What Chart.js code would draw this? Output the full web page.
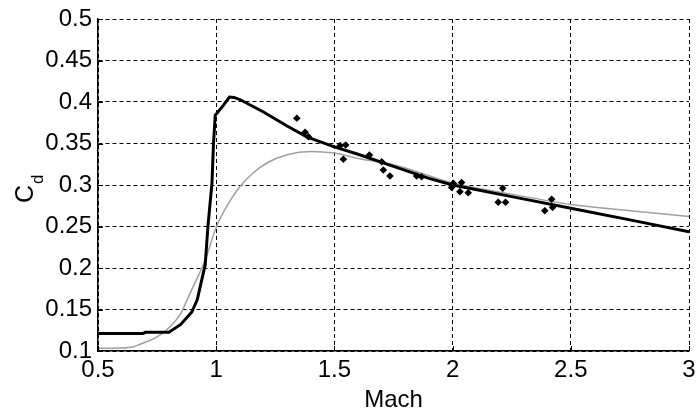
<!DOCTYPE html>
<html>
<head>
<meta charset="utf-8">
<script src="https://cdn.jsdelivr.net/npm/chart.js@4/dist/chart.umd.min.js"></script>
<style>
html,body{margin:0;padding:0;background:#fff;}
canvas{display:block;}
</style>
</head>
<body>
<canvas id="c" width="698" height="412"></canvas>
<script>
// ---- data ----
const xTicks = [0.5, 1, 1.5, 2, 2.5, 3];
const xTickLabels = ['0.5', '1', '1.5', '2', '2.5', '3'];
const yTicks = [0.1, 0.15, 0.2, 0.25, 0.3, 0.35, 0.4, 0.45, 0.5];
const yTickLabels = ['0.1', '0.15', '0.2', '0.25', '0.3', '0.35', '0.4', '0.45', '0.5'];

// thick black curve
const machBlack = [0.5, 0.69, 0.70, 0.80, 0.85, 0.897, 0.92, 0.9535, 0.965, 0.982, 0.9886, 0.996, 1.03, 1.056, 1.075, 1.1, 1.2, 1.3, 1.383, 1.5, 1.6, 1.75, 1.9, 2.0, 2.25, 2.5, 2.75, 3.0];
const cdBlack   = [0.121, 0.121, 0.1225, 0.1225, 0.132, 0.147, 0.162, 0.204, 0.25, 0.302, 0.35, 0.384, 0.396, 0.406, 0.4055, 0.403, 0.388, 0.371, 0.358, 0.346, 0.337, 0.3225, 0.308, 0.300, 0.286, 0.272, 0.258, 0.2437];

// thin grey curve
const machGrey = [0.5, 0.6, 0.65, 0.68, 0.75, 0.8, 0.85, 0.876, 0.9, 0.9535, 1.0, 1.05, 1.1, 1.15, 1.214, 1.3, 1.4, 1.5, 1.6, 1.75, 2.0, 2.25, 2.5, 2.75, 3.0];
const cdGrey   = [0.1033, 0.1035, 0.105, 0.1085, 0.117, 0.128, 0.145, 0.161, 0.176, 0.2096, 0.249, 0.277, 0.298, 0.313, 0.3265, 0.3365, 0.3405, 0.3385, 0.332, 0.3245, 0.3025, 0.289, 0.2765, 0.269, 0.262];

// measured points (diamonds)
const machPts = [1.341, 1.376, 1.390, 1.524, 1.548, 1.538, 1.648, 1.700, 1.707, 1.735, 1.848, 1.869, 2.003, 1.996, 2.038, 2.031, 2.066, 2.212, 2.193, 2.224, 2.390, 2.419, 2.423];
const cdPts   = [0.3804, 0.3635, 0.3582, 0.3474, 0.3482, 0.331, 0.3361, 0.328, 0.318, 0.3108, 0.3108, 0.310, 0.302, 0.297, 0.303, 0.292, 0.2907, 0.296, 0.2792, 0.2792, 0.269, 0.2828, 0.2731];

const xTitle = 'Mach';
const yTitleMain = 'C';
const yTitleSub = 'd';

const FONT = '"Liberation Sans", Arial, sans-serif';
const pairs = (xs, ys) => xs.map((x, i) => ({x: x, y: ys[i]}));

const yTitlePlugin = {
  id: 'yTitle',
  afterDraw(chart) {
    const ctx = chart.ctx;
    ctx.save();
    ctx.translate(33, 203);
    ctx.rotate(-Math.PI / 2);
    ctx.fillStyle = '#000';
    ctx.textBaseline = 'alphabetic';
    ctx.textAlign = 'left';
    ctx.font = '25px ' + FONT;
    ctx.fillText(yTitleMain, 0, 0);
    const w = ctx.measureText(yTitleMain).width;
    ctx.font = '17px ' + FONT;
    ctx.fillText(yTitleSub, w + 1, 10);
    ctx.restore();
  }
};

const innerTicks = {
  id: 'innerTicks',
  afterDatasetsDraw(chart) {
    const ctx = chart.ctx;
    const xs = chart.scales.x, ys = chart.scales.y;
    const a = chart.chartArea;
    ctx.save();
    ctx.strokeStyle = '#000';
    ctx.lineWidth = 1;
    ctx.beginPath();
    xTicks.forEach(v => {
      const px = Math.round(xs.getPixelForValue(v)) + 0.5;
      ctx.moveTo(px, a.bottom);
      ctx.lineTo(px, a.bottom - 5);
    });
    yTicks.forEach(v => {
      const py = Math.round(ys.getPixelForValue(v)) + 0.5;
      ctx.moveTo(a.left, py);
      ctx.lineTo(a.left + 5, py);
    });
    ctx.stroke();
    ctx.restore();
  }
};

new Chart(document.getElementById('c'), {
  type: 'scatter',
  data: {
    datasets: [
      {
        label: 'data',
        data: pairs(machPts, cdPts),
        pointStyle: 'rectRot',
        pointRadius: 3.8,
        backgroundColor: '#000',
        borderColor: '#000',
        borderWidth: 0,
        showLine: false
      },
      {
        label: 'black',
        data: pairs(machBlack, cdBlack),
        showLine: true,
        borderColor: '#000',
        borderWidth: 3,
        pointRadius: 0,
        tension: 0,
        fill: false
      },
      {
        label: 'grey',
        data: pairs(machGrey, cdGrey),
        showLine: true,
        borderColor: '#a0a0a0',
        borderWidth: 1.5,
        pointRadius: 0,
        cubicInterpolationMode: 'monotone',
        fill: false
      }
    ]
  },
  options: {
    responsive: false,
    animation: false,
    events: [],
    layout: { padding: { top: 19, right: 9, left: 0, bottom: 0 } },
    plugins: { legend: { display: false }, tooltip: { enabled: false }, title: { display: false } },
    scales: {
      x: {
        type: 'linear',
        min: 0.5, max: 3,
        afterBuildTicks(s) { s.ticks = xTicks.map(v => ({value: v})); },
        afterFit(s) { s.height = 61; s.paddingLeft = 0; s.paddingRight = 0; },
        ticks: {
          color: '#000',
          font: { family: FONT, size: 24 },
          padding: 5,
          maxRotation: 0,
          autoSkip: false,
          callback: (v) => { const i = xTicks.indexOf(v); return i >= 0 ? xTickLabels[i] : ''; }
        },
        grid: { color: '#000', lineWidth: 1, drawTicks: false },
        border: { display: true, color: '#000', width: 1.5, dash: [4, 3] },
        title: { display: true, text: xTitle, color: '#000', font: { family: FONT, size: 24, lineHeight: 1 }, padding: { top: 0, bottom: 0 } }
      },
      y: {
        type: 'linear',
        min: 0.1, max: 0.5,
        afterBuildTicks(s) { s.ticks = yTicks.map(v => ({value: v})); },
        afterFit(s) { s.width = 98; s.paddingTop = 0; s.paddingBottom = 0; },
        ticks: {
          color: '#000',
          font: { family: FONT, size: 24 },
          padding: 6,
          autoSkip: false,
          callback: (v) => { const i = yTicks.findIndex(t => Math.abs(t - v) < 1e-9); return i >= 0 ? yTickLabels[i] : ''; }
        },
        grid: { color: '#000', lineWidth: 1, drawTicks: false },
        border: { display: true, color: '#000', width: 1.5, dash: [4, 3] },
        title: { display: false }
      }
    }
  },
  plugins: [innerTicks, yTitlePlugin]
});
</script>
</body>
</html>
